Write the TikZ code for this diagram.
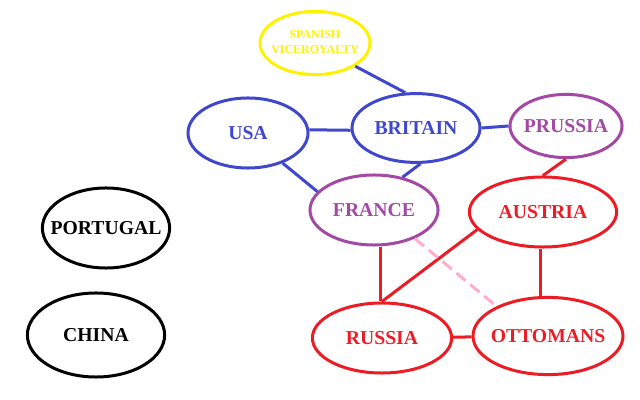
\documentclass[tikz,border=0pt]{standalone}
\usepackage{fontspec}
\setmainfont{Liberation Serif}
\usetikzlibrary{shapes.geometric, positioning}
\definecolor{paintblue}{RGB}{63,72,204}
\definecolor{paintpurple}{RGB}{163,73,164}
\definecolor{paintred}{RGB}{237,28,36}
\definecolor{paintyellow}{RGB}{255,242,0}
\definecolor{paintpink}{RGB}{255,174,201}
\tikzstyle{link} = [line width=0.075cm]
\tikzset{country/.style={
    ellipse, draw, line width=0.075cm, inner sep=0pt,
    font=\fontsize{14}{16}\selectfont\bfseries,
  },
}
\newcommand{\cname}[1]{\makebox[0pt]{#1}}
\begin{document}
\begin{tikzpicture}[x=0.025cm, y=-0.025cm]
        \useasboundingbox (0,0) rectangle (640,400);

        % the great powers
        \node[country, paintyellow, minimum width=2.75cm, minimum height=1.58cm,
              font=\fontsize{8.5}{10.5}\selectfont\bfseries] (spain) at (315,43)
              {\cname{\begin{tabular}{@{}c@{}}SPANISH\\VICEROYALTY\end{tabular}}};
        \node[country, paintblue, minimum width=3.0cm, minimum height=1.75cm] (usa) at (248,133) {\cname{USA}};
        \node[country, paintblue, minimum width=3.2cm, minimum height=1.72cm] (britain) at (416,128) {\cname{BRITAIN}};
        \node[country, paintpurple, minimum width=2.8cm, minimum height=1.58cm] (prussia) at (566,126) {\cname{PRUSSIA}};
        \node[country, paintpurple, minimum width=3.2cm, minimum height=1.75cm] (france) at (374,210) {\cname{FRANCE}};
        \node[country, paintred, minimum width=3.68cm, minimum height=1.75cm] (austria) at (543,212) {\cname{AUSTRIA}};
        \node[country, paintred, minimum width=3.48cm, minimum height=1.75cm] (russia) at (382,338) {\cname{RUSSIA}};
        \node[country, paintred, minimum width=3.75cm, minimum height=1.93cm] (ottomans) at (548,336) {\cname{OTTOMANS}};

        % on their own
        \node[country, black, minimum width=3.18cm, minimum height=2.0cm] (portugal) at (106,228) {\cname{PORTUGAL}};
        \node[country, black, minimum width=3.43cm, minimum height=2.1cm] (china) at (96,335) {\cname{CHINA}};

        % links
        \draw[link, paintblue] (spain.-30) -- (britain.107);
        \draw[link, paintblue] (usa.3) -- (britain.-178);
        \draw[link, paintblue] (britain.east) -- (prussia.west);
        \draw[link, paintblue] (usa.319) -- (france.162);
        \draw[link, paintblue] (britain.277) -- (france.49);
        \draw[link, paintred] (prussia.south) -- (austria.north);
        \draw[link, paintred] (france.south -| 380,0) -- (russia.north -| 380,0);
        \draw[link, paintred] (austria.195) -- (russia.north);
        \draw[link, paintred] (austria.south -| 540,0) -- (ottomans.north -| 540,0);
        \draw[link, paintred] (russia) -- (ottomans);
        \draw[link, paintpink, dash pattern=on 0.3cm off 0.15cm] (france.-35) -- (ottomans.150);
    \end{tikzpicture}
\end{document}
